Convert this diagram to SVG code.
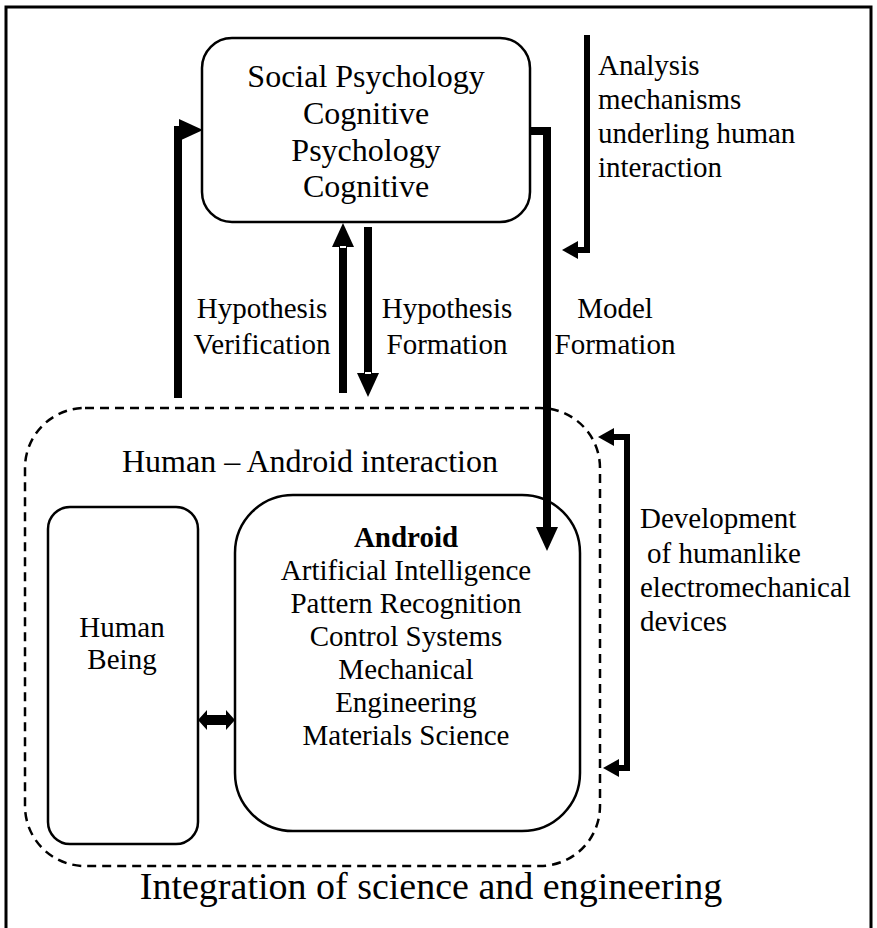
<svg xmlns="http://www.w3.org/2000/svg" width="877" height="928" viewBox="0 0 877 928">
<style>
text{font-family:"Liberation Serif","Times New Roman",serif;fill:#000}
.t32{font-size:32px}
.t29{font-size:29px}
.box{fill:none;stroke:#000;stroke-width:2.5}
.dash{fill:none;stroke:#000;stroke-width:2.5;stroke-dasharray:9 6}
.thick{fill:none;stroke:#000;stroke-width:8}
.mid{fill:none;stroke:#000;stroke-width:6}
.c{text-anchor:middle}
</style>
<defs>
<marker id="ah" viewBox="0 0 24 22" refX="0" refY="11" markerWidth="24" markerHeight="22" markerUnits="userSpaceOnUse" orient="auto"><path d="M0,0 L24,11 L0,22 z" fill="#000"/></marker>
<marker id="ah2" viewBox="0 0 16 18" refX="0" refY="9" markerWidth="16" markerHeight="18" markerUnits="userSpaceOnUse" orient="auto"><path d="M0,0 L16,9 L0,18 z" fill="#000"/></marker>
</defs>
<rect width="877" height="928" fill="#fff"/>
<path d="M6,928 V7 H871 V928" fill="none" stroke="#000" stroke-width="3"/>

<g id="psychology">
<rect class="box" x="202" y="38" width="328" height="184" rx="30"/>
<text class="t32 c" x="366" y="87">Social Psychology</text>
<text class="t32 c" x="366" y="124">Cognitive</text>
<text class="t32 c" x="366" y="161">Psychology</text>
<text class="t32 c" x="366" y="197">Cognitive</text>
</g>

<g id="interaction">
<rect class="dash" x="25" y="408" width="575" height="458" rx="60"/>
<text class="t32" x="122" y="472">Human – Android interaction</text>
</g>

<g id="human">
<rect class="box" x="48" y="507" width="150" height="337" rx="22"/>
<text class="t29 c" x="122" y="637">Human</text>
<text class="t29 c" x="122" y="669">Being</text>
</g>

<g id="android">
<rect class="box" x="235" y="495" width="345" height="336" rx="58"/>
<text class="t29 c" x="406" y="547" font-weight="bold">Android</text>
<text class="t29 c" x="406" y="580">Artificial Intelligence</text>
<text class="t29 c" x="406" y="613">Pattern Recognition</text>
<text class="t29 c" x="406" y="646">Control Systems</text>
<text class="t29 c" x="406" y="679">Mechanical</text>
<text class="t29 c" x="406" y="712">Engineering</text>
<text class="t29 c" x="406" y="745">Materials Science</text>
</g>

<g id="labels">
<text class="t29 c" x="262" y="318">Hypothesis</text>
<text class="t29 c" x="262" y="354">Verification</text>
<text class="t29 c" x="447" y="318">Hypothesis</text>
<text class="t29 c" x="447" y="354">Formation</text>
<text class="t29 c" x="615" y="318">Model</text>
<text class="t29 c" x="615" y="354">Formation</text>
<text class="t29" x="598" y="75">Analysis</text>
<text class="t29" x="598" y="109">mechanisms</text>
<text class="t29" x="598" y="143">underling human</text>
<text class="t29" x="598" y="177">interaction</text>
<text class="t29" x="640" y="528">Development</text>
<text class="t29" x="647" y="563">of humanlike</text>
<text class="t29" x="640" y="597">electromechanical</text>
<text class="t29" x="640" y="631">devices</text>
<text x="431" y="899" style="font-size:38px" class="c">Integration of science and engineering</text>
</g>

<g id="connectors">
<path class="thick" d="M178,398 V130 H179" marker-end="url(#ah)"/>
<path class="thick" d="M530,131 H547 V527" marker-end="url(#ah)"/>
<path class="thick" d="M343,393 V247" marker-end="url(#ah)"/>
<path class="thick" d="M368,227 V373" marker-end="url(#ah)"/>
<path class="mid" d="M587,35 V250 H578" marker-end="url(#ah2)"/>
<path class="mid" d="M627,437 H614" marker-end="url(#ah2)"/>
<path class="mid" d="M627,434 V771"/>
<path class="mid" d="M627,768 H619" marker-end="url(#ah2)"/>
<polygon points="198,720 207,710 207,715 226,715 226,710 235,720 226,730 226,725 207,725 207,730" fill="#000"/>
<path d="M340,247 H346 M365,373 H371" stroke="#fff" stroke-width="2"/>
</g>
</svg>
